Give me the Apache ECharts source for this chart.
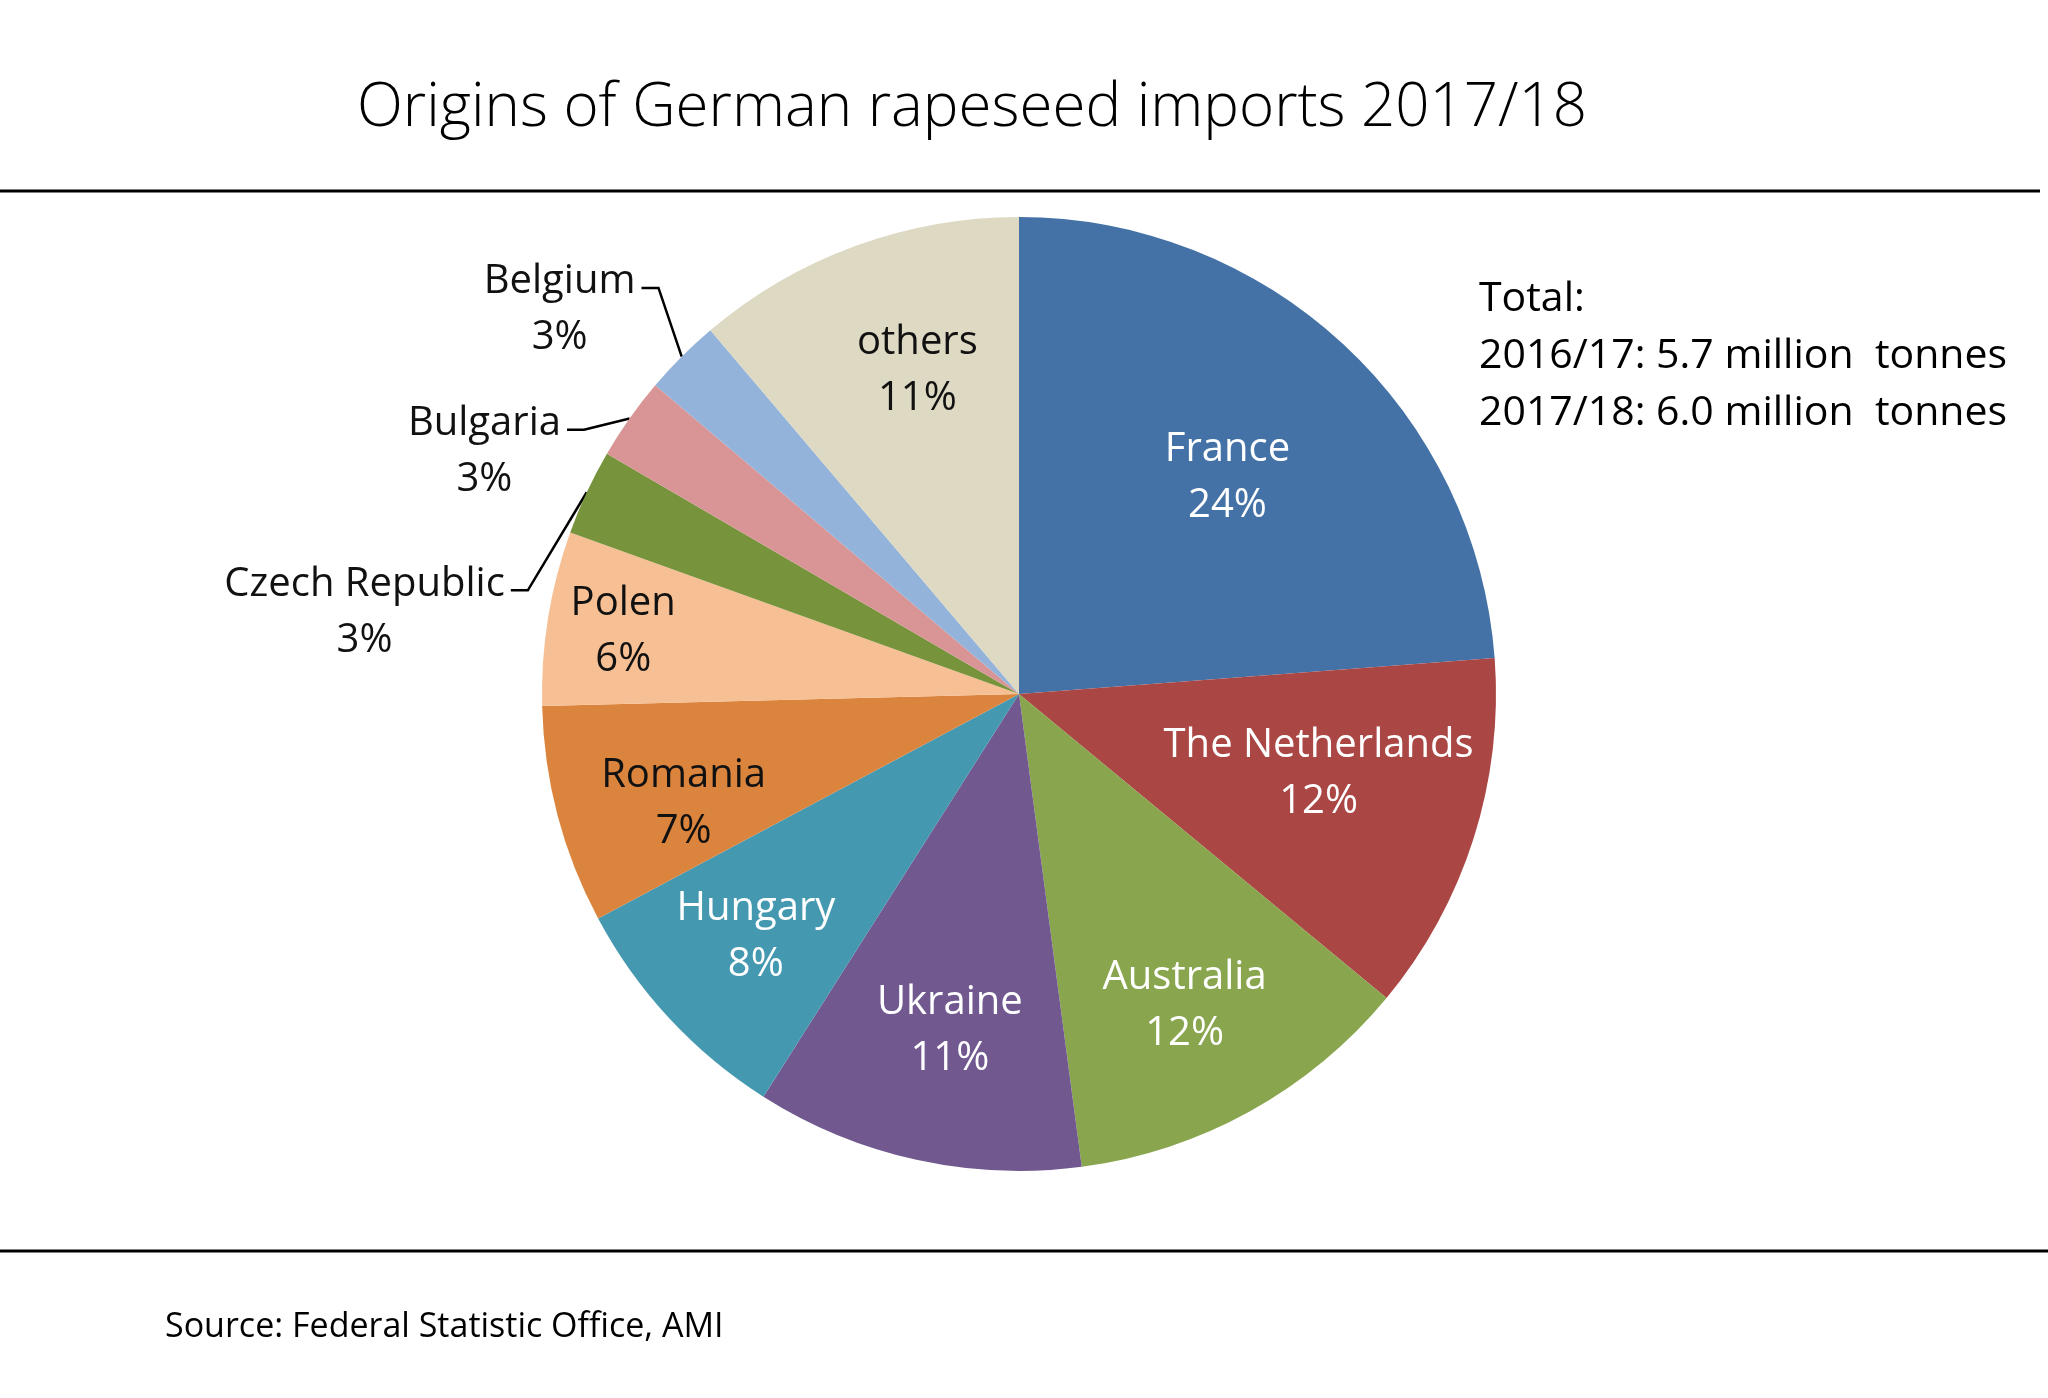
<!DOCTYPE html>
<html style="height: 100%">
<head>
    <meta charset="utf-8">
</head>
<body style="height: 100%; margin: 0; background: #fff">
<div id="container" style="width: 2048px; height: 1398px"></div>
<script type="text/javascript" src="https://cdn.jsdelivr.net/npm/echarts@6/dist/echarts.min.js"></script>
<script type="text/javascript">
var countries = ['France', 'The Netherlands', 'Australia', 'Ukraine', 'Hungary', 'Romania',
    'Polen', 'Czech Republic', 'Bulgaria', 'Belgium', 'others'];
// shares in %
var shares = [23.8, 12.2, 11.9, 11.1, 8.2, 7.4, 5.9, 2.9, 2.8, 2.6, 11.2];
var sliceColors = ['#4472a7', '#aa4644', '#89a54e', '#71588f', '#4498b0', '#db843d',
    '#f7c094', '#77933c', '#d99595', '#93b3db', '#ddd9c3'];
var textColors = ['#ffffff', '#ffffff', '#ffffff', '#ffffff', '#ffffff', '#111111',
    '#111111', '#111111', '#111111', '#111111', '#111111'];
// where the inside labels sit: fraction of the radius, turn from mid angle (deg)
var labelRadius = [0.63, 0.65, 0.74, 0.72, 0.75, 0.74, 0.84, 0, 0, 0, 0.71];
var labelTurn = [-1.1, 2.7, -1.0, 0.8, -0.2, 3.4, 0.2, 0, 0, 0, -2.7];
// small slices get callouts: [turn from mid angle in degrees, reach beyond the rim in px]
var callouts = {
    'Czech Republic': [13.1, 25],
    'Bulgaria': [4.0, 32],
    'Belgium': [-3.4, 66]
};
var totalLines = ['Total:', '2016/17: 5.7 million  tonnes', '2017/18: 6.0 million  tonnes'];
var sourceText = 'Source: Federal Statistic Office, AMI';

var FONT = '"Open Sans", "Noto Sans", sans-serif';
var CENTER = [1019, 694];
var R = 477;
var ARM = 17;
var DEG = Math.PI / 180;

var dom = document.getElementById('container');
var myChart = echarts.init(dom);

function pctText(params) {
    return Math.round(params.percent) + '%';
}

var pieData = countries.map(function (name, i) {
    var outside = !!callouts[name];
    var item = {
        name: name,
        value: shares[i],
        labelLine: { show: outside }
    };
    if (outside) {
        item.label = {
            position: 'outside',
            padding: [44, 0, 0, 0],
            formatter: function (p) {
                return '{c|' + p.name + '}\n{c|' + pctText(p) + '}';
            },
            rich: {
                c: { fontFamily: FONT, fontSize: 40, lineHeight: 56, color: '#111', align: 'center' }
            }
        };
    } else {
        item.label = {
            position: 'inside',
            color: textColors[i],
            overflow: 'none',
            formatter: function (p) {
                return p.name + '\n' + pctText(p);
            }
        };
    }
    return item;
});

function placeLabel(params) {
    var i = params.dataIndex;
    var c = callouts[countries[i]];
    if (c) {
        var p0 = params.labelLinePoints[0];
        var mid = Math.atan2(CENTER[1] - p0[1], p0[0] - CENTER[0]);
        var ang = mid + c[0] * DEG;
        var r = R + c[1];
        var ex = CENTER[0] + r * Math.cos(ang);
        var ey = CENTER[1] - r * Math.sin(ang);
        return {
            x: ex - ARM - 6,
            y: ey,
            align: 'right',
            verticalAlign: 'middle',
            labelLinePoints: [[p0[0], p0[1]], [ex, ey], [ex - ARM, ey]]
        };
    }
    // move the inside labels from the half radius to where they sit in the source
    var lx = params.labelRect.x + params.labelRect.width / 2;
    var ly = params.labelRect.y + params.labelRect.height / 2;
    var a = Math.atan2(CENTER[1] - ly, lx - CENTER[0]) + labelTurn[i] * DEG;
    var d = labelRadius[i] * R;
    return {
        x: CENTER[0] + d * Math.cos(a),
        y: CENTER[1] - d * Math.sin(a)
    };
}

var option = {
    animation: false,
    backgroundColor: '#ffffff',
    title: {
        text: 'Origins of German rapeseed imports 2017/18',
        left: 972,
        top: 74,
        padding: 0,
        textAlign: 'center',
        textStyle: {
            fontFamily: FONT,
            fontSize: 60,
            fontWeight: 300,
            lineHeight: 70,
            color: '#000'
        }
    },
    color: sliceColors,
    graphic: [
        { type: 'line', shape: { x1: 0, y1: 191, x2: 2040, y2: 191 }, style: { stroke: '#000', lineWidth: 3 } },
        { type: 'line', shape: { x1: 0, y1: 1251, x2: 2048, y2: 1251 }, style: { stroke: '#000', lineWidth: 3 } },
        {
            type: 'text', left: 1479, top: 271,
            style: { text: totalLines.join('\n'), font: '41px ' + FONT, lineHeight: 57, fill: '#000' }
        },
        {
            type: 'text', left: 165, top: 1307,
            style: { text: sourceText, font: '34px ' + FONT, lineHeight: 40, fill: '#000' }
        }
    ],
    series: [
        {
            type: 'pie',
            center: CENTER,
            radius: R,
            startAngle: 90,
            clockwise: true,
            silent: true,
            avoidLabelOverlap: false,
            itemStyle: { borderWidth: 0 },
            emphasis: { disabled: true },
            label: {
                fontFamily: FONT,
                fontSize: 40,
                lineHeight: 56
            },
            labelLine: {
                length: 22,
                length2: ARM,
                lineStyle: { color: '#000', width: 2.5 }
            },
            labelLayout: placeLabel,
            data: pieData
        }
    ]
};

myChart.setOption(option);
</script>
</body>
</html>
